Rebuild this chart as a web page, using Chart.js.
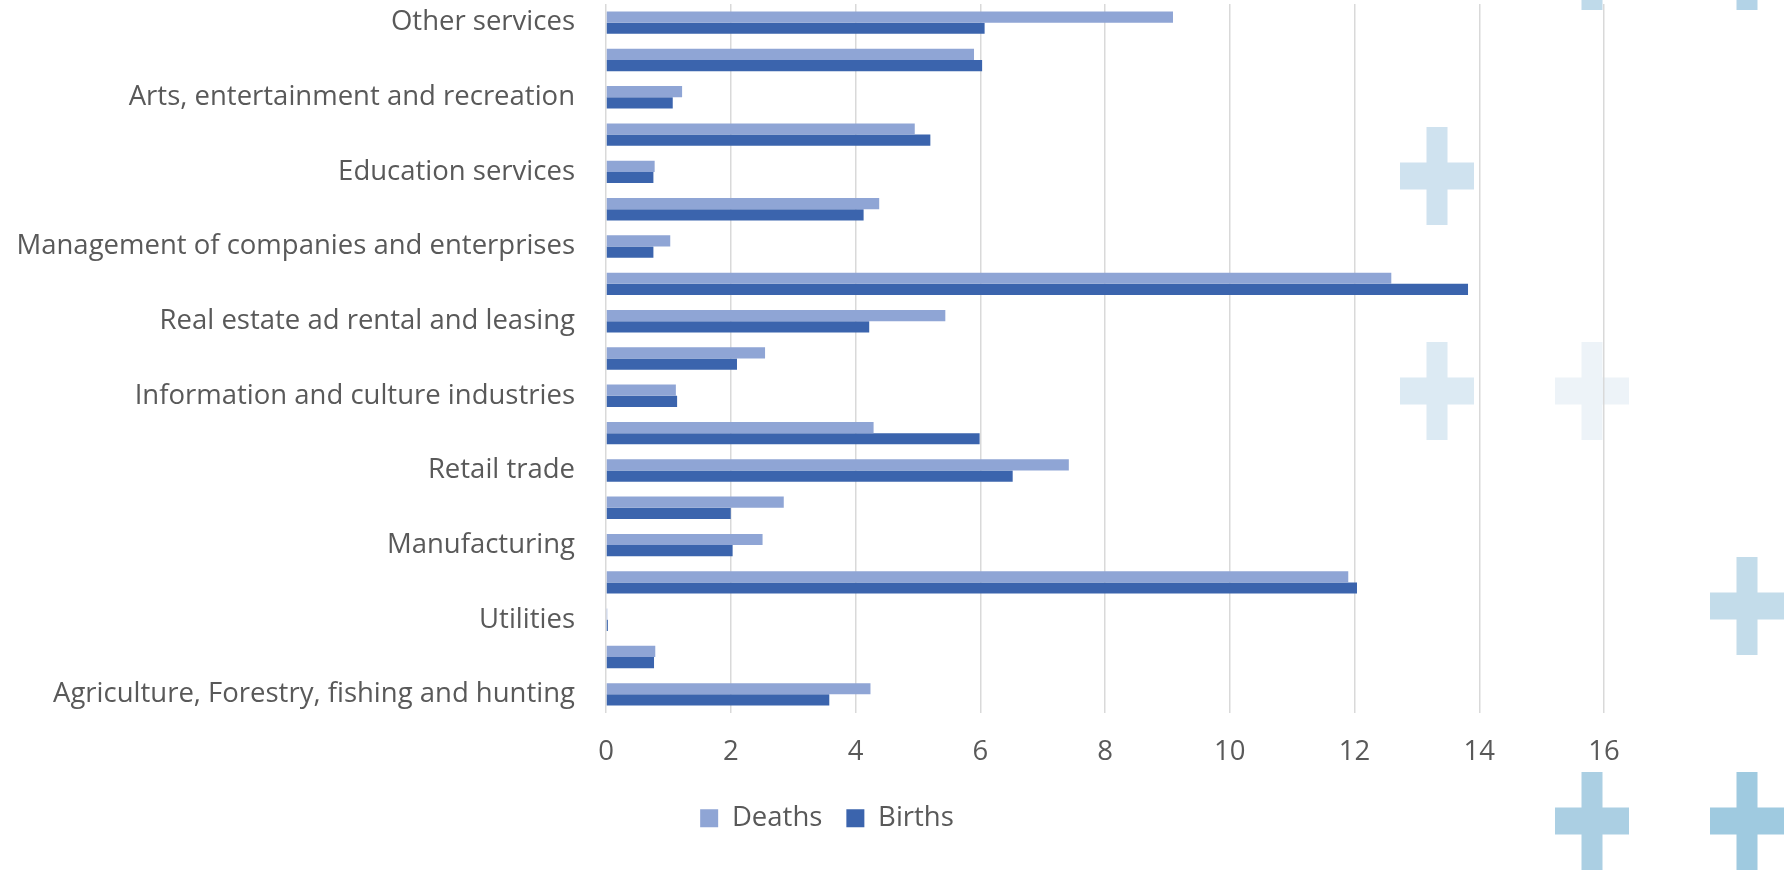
<!DOCTYPE html>
<html lang="en">
<head>
    <meta charset="UTF-8">
    <title>Business births and deaths by industry</title>
    <script src="https://cdn.jsdelivr.net/npm/chart.js"></script>
    <style>
        html, body { margin: 0; padding: 0; background: #fff; }
        #wrap { width: 1787px; height: 870px; position: relative; }
    </style>
</head>
<body>
    <div id="wrap">
        <canvas id="industryChart"></canvas>
    </div>

    <script>
        // categories, top to bottom (as in the picture)
        const industries = [
            'Other services',
            'Accommodation and food services',
            'Arts, entertainment and recreation',
            'Health care and social assistance',
            'Education services',
            'Administrative and support services',
            'Management of companies and enterprises',
            'Professional, scientific and technical services',
            'Real estate ad rental and leasing',
            'Finance and insurance',
            'Information and culture industries',
            'Transportation and warehousing',
            'Retail trade',
            'Wholesale trade',
            'Manufacturing',
            'Construction',
            'Utilities',
            'Mining, quarrying, and oil and gas extraction',
            'Agriculture, Forestry, fishing and hunting'
        ];

        const deaths = [9.09, 5.90, 1.22, 4.95, 0.78, 4.38, 1.03, 12.59, 5.44, 2.55, 1.12, 4.29, 7.42, 2.85, 2.51, 11.90, 0.02, 0.79, 4.24];
        const births = [6.07, 6.03, 1.07, 5.20, 0.76, 4.13, 0.76, 13.82, 4.22, 2.10, 1.14, 5.99, 6.52, 2.00, 2.03, 12.04, 0.03, 0.77, 3.58];

        const xTicks = [0, 2, 4, 6, 8, 10, 12, 14, 16];

        const textColor = '#595959';
        const fontFamily = '"Open Sans", Lato, sans-serif';
        const fontSize = 27.5;

        // slide background decoration (light blue crosses)
        const crosses = [
            { x: 1592, y: -39, color: '#bfdaea' },
            { x: 1747, y: -39, color: '#b3d3e7' },
            { x: 1437, y: 176, color: '#cfe2ef' },
            { x: 1437, y: 391, color: '#dceaf3' },
            { x: 1592, y: 391, color: '#edf3f8' },
            { x: 1747, y: 606, color: '#c3dcea' },
            { x: 1592, y: 821, color: '#abcfe3' },
            { x: 1747, y: 821, color: '#9fcae0' }
        ];

        const crossBackground = {
            id: 'crossBackground',
            beforeDraw(chart) {
                const ctx = chart.ctx;
                ctx.save();
                crosses.forEach(c => {
                    ctx.fillStyle = c.color;
                    ctx.fillRect(c.x - 10.5, c.y - 49, 21, 98);
                    ctx.fillRect(c.x - 37, c.y - 13.5, 74, 27);
                });
                ctx.restore();
            }
        };

        const ctx = document.getElementById('industryChart').getContext('2d');
        new Chart(ctx, {
            type: 'bar',
            data: {
                labels: industries,
                datasets: [
                    { label: 'Deaths', data: deaths, backgroundColor: '#8fa5d5', borderWidth: 0 },
                    { label: 'Births', data: births, backgroundColor: '#3b64ad', borderWidth: 0 }
                ]
            },
            options: {
                indexAxis: 'y',
                responsive: true,
                maintainAspectRatio: false,
                animation: false,
                datasets: {
                    bar: { categoryPercentage: 0.6, barPercentage: 1.0 }
                },
                layout: {
                    padding: { top: 4, left: 0, right: 133, bottom: 28 }
                },
                plugins: {
                    legend: {
                        position: 'bottom',
                        labels: {
                            boxWidth: 18,
                            boxHeight: 18,
                            padding: 24,
                            color: textColor,
                            font: { family: fontFamily, size: fontSize }
                        }
                    },
                    tooltip: { enabled: false }
                },
                scales: {
                    x: {
                        min: 0,
                        max: 16,
                        afterBuildTicks: axis => {
                            axis.ticks = xTicks.map(v => ({ value: v }));
                        },
                        afterFit: axis => {
                            axis.paddingRight = 183;
                            axis.height = 67.5;
                        },
                        grid: { color: '#d9d9d9', lineWidth: 1.5, drawTicks: false },
                        border: { display: false },
                        ticks: {
                            padding: 23,
                            color: textColor,
                            font: { family: fontFamily, size: fontSize }
                        }
                    },
                    y: {
                        afterFit: axis => {
                            axis.width = 606;
                            axis.paddingTop = 0;
                            axis.paddingBottom = 0;
                        },
                        grid: { display: false, drawTicks: false },
                        border: { display: false },
                        ticks: {
                            autoSkip: false,
                            padding: 31,
                            color: textColor,
                            font: { family: fontFamily, size: fontSize },
                            callback: function (value, index) {
                                return index % 2 === 0 ? this.getLabelForValue(value) : '';
                            }
                        }
                    }
                }
            },
            plugins: [crossBackground]
        });
    </script>
</body>
</html>
